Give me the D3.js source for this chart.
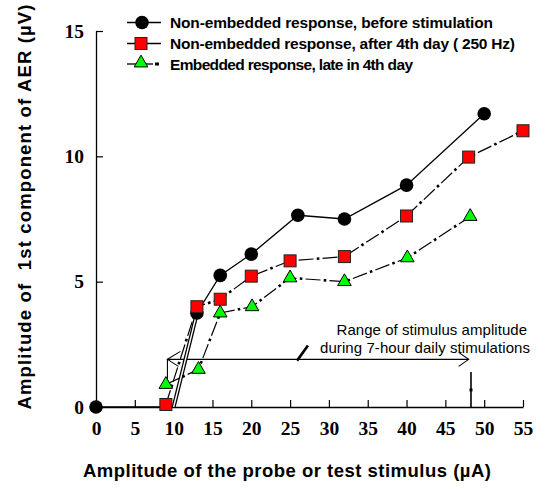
<!DOCTYPE html>
<html><head><meta charset="utf-8">
<script src="https://cdn.jsdelivr.net/npm/d3@7"></script>
<style>body{margin:0;background:#fff}</style>
</head><body>
<svg id="c" width="550" height="489"></svg>
<script>
const xTicks = [0,5,10,15,20,25,30,35,40,45,50,55];
const yTicks = [0,5,10,15];
const blackSeries = [[0,0],[10,0],[13,3.75],[16,5.25],[20,6.1],[26,7.65],[32,7.5],[40,8.85],[50,11.7]];
const redSeries = [[9,0.1],[13,4.0],[16,4.3],[20,5.22],[25,5.83],[32,6.0],[40,7.62],[48,9.97],[55,11.02]];
const greenSeries = [[9,0.9],[13.2,1.5],[16,3.75],[20.1,4.0],[25,5.15],[32,5.0],[40.1,5.95],[48.2,7.6]];
const legendLabels = ["Non-embedded response, before stimulation","Non-embedded response, after 4th day ( 250 Hz)","Embedded response, late in 4th day"];
const annotLines = ["Range of stimulus amplitude","during 7-hour daily stimulations"];
const xTitle = "Amplitude of the probe or test stimulus (\u00b5A)";
const yTitle = "Amplitude of  1st component of AER (\u00b5V)";

const svg = d3.select("#c");
const L=96, R=523, T=31, B=407;
const x = d3.scaleLinear().domain([0,55]).range([L,R]);
const y = d3.scaleLinear().domain([0,15]).range([B,T]);
const SANS = "'Liberation Sans',Arial,sans-serif";

// axes
const xAxis = d3.axisBottom(x).tickValues(xTicks).tickSize(-7).tickPadding(14).tickSizeOuter(0);
const gx = svg.append("g").attr("transform",`translate(0,${B})`).call(xAxis);
gx.select(".domain").attr("stroke","#000").attr("stroke-width",1.3);
gx.selectAll(".tick line").attr("stroke","#000").attr("stroke-width",1.2);
gx.selectAll(".tick text").attr("font-family","'Liberation Serif',serif").attr("font-weight","bold").attr("font-size",19.5).attr("fill","#000");

const yAxis = d3.axisLeft(y).tickValues(yTicks).tickSize(-7).tickPadding(12).tickSizeOuter(0);
const gy = svg.append("g").attr("transform",`translate(${L},0)`).call(yAxis);
gy.select(".domain").attr("stroke","#000").attr("stroke-width",1.3);
gy.selectAll(".tick text").attr("font-family","'Liberation Serif',serif").attr("font-weight","bold").attr("font-size",19.5).attr("fill","#000");
gy.selectAll(".tick line").attr("stroke","#000").attr("stroke-width",1.2);

// titles
svg.append("text").attr("x",287).attr("y",477).attr("text-anchor","middle")
  .attr("font-family",SANS).attr("font-weight","bold").attr("font-size",18.5)
  .attr("textLength",408).attr("lengthAdjust","spacing").text(xTitle);
svg.append("text").attr("transform",`translate(31,207) rotate(-90)`).attr("text-anchor","middle")
  .style("white-space","pre")
  .attr("font-family",SANS).attr("font-weight","bold").attr("font-size",18.5)
  .attr("textLength",405).attr("lengthAdjust","spacing").text(yTitle);

// annotation
const ann = svg.append("g").attr("stroke","#000").attr("fill","none");
const ay = 1.9, ax0 = 9.2, ax1 = 48;
ann.append("line").attr("x1",x(ax0)).attr("x2",x(ax1)).attr("y1",y(ay)).attr("y2",y(ay)).attr("stroke-width",1.2);
ann.append("path").attr("d",`M${x(ax1)-10},${y(ay)-7}L${x(ax1)},${y(ay)}L${x(ax1)-10},${y(ay)+7}`).attr("stroke-width",1.1);
ann.append("path").attr("d",`M${x(ax0)+13},${y(ay)-8}L${x(ax0)},${y(ay)}L${x(ax0)+11},${y(ay)+7}`).attr("stroke-width",1.1);
ann.append("line").attr("x1",x(ax0)).attr("x2",x(ax0)).attr("y1",y(ay)).attr("y2",y(1.0)).attr("stroke-width",1.1);
ann.append("line").attr("x1",x(48.3)).attr("x2",x(48.3)).attr("y1",y(1.4)).attr("y2",y(0)).attr("stroke-width",1.6);
ann.append("rect").attr("x",x(48.3)-1.5).attr("y",y(0.68)-1.5).attr("width",3).attr("height",3).attr("fill","#000").attr("stroke","none");
ann.append("line").attr("x1",x(25.9)).attr("y1",y(1.85)).attr("x2",x(27.3)).attr("y2",y(2.45)).attr("stroke-width",2.6);
svg.append("g").selectAll("text").data(annotLines).join("text")
  .attr("x",(d,i)=>i===0?336.5:320).attr("y",(d,i)=>335+i*17.5)
  .attr("font-family",SANS).attr("font-size",15)
  .attr("textLength",(d,i)=>i===0?190.5:210).attr("lengthAdjust","spacing").text(d=>d);

const line = d3.line().x(d=>x(d[0])).y(d=>y(d[1]));

function dashDot(g, data){
  g.append("path").attr("d",line(data)).attr("fill","none").attr("stroke","#000").attr("stroke-width",1.2).attr("stroke-dasharray","15 9");
  g.append("path").attr("d",line(data)).attr("fill","none").attr("stroke","#000").attr("stroke-width",2.6).attr("stroke-dasharray","2.6 21.4").attr("stroke-dashoffset",-18.2);
}

// black
const gb = svg.append("g");
gb.append("path").attr("d",line(blackSeries)).attr("fill","none").attr("stroke","#000").attr("stroke-width",1.3);
gb.append("path").attr("d",line(blackSeries.slice(1,3))).attr("fill","none").attr("stroke","#000").attr("stroke-width",4);
gb.append("path").attr("d",line(blackSeries.slice(1,3))).attr("fill","none").attr("stroke","#fff").attr("stroke-width",1.4);
gb.selectAll("circle").data(blackSeries.filter((d,i)=>i!==1)).join("circle")
  .attr("cx",d=>x(d[0])).attr("cy",d=>y(d[1])).attr("r",6.8).attr("fill","#000");

// red
const gr = svg.append("g");
dashDot(gr, redSeries);
gr.selectAll("rect").data(redSeries).join("rect")
  .attr("x",d=>x(d[0])-6).attr("y",d=>y(d[1])-6).attr("width",12).attr("height",12)
  .attr("fill","#ff0000").attr("stroke","#222").attr("stroke-width",1);

// green
const gg = svg.append("g");
dashDot(gg, greenSeries);
const tri = d3.symbol().type(d3.symbolTriangle).size(80);
gg.selectAll("path.m").data(greenSeries).join("path").attr("class","m")
  .attr("transform",d=>`translate(${x(d[0])},${y(d[1])})`).attr("d",tri)
  .attr("fill","#00ff00").attr("stroke","#000").attr("stroke-width",1);

// legend
const lg = svg.append("g");
const rowY = [22.5,43.5,64];
const lx0=127, lx1=161, lm=141;
lg.selectAll("line").data(rowY).join("line").attr("x1",lx0).attr("x2",(d,i)=>i===2?lx1-8:lx1).attr("y1",d=>d).attr("y2",d=>d).attr("stroke","#000").attr("stroke-width",1.3);
lg.append("rect").attr("x",lx1-6).attr("y",rowY[2]-1.5).attr("width",4).attr("height",3).attr("fill","#000");
lg.append("circle").attr("cx",lm+1).attr("cy",rowY[0]).attr("r",6.8).attr("fill","#000");
lg.append("rect").attr("x",lm-6).attr("y",rowY[1]-6).attr("width",12).attr("height",12).attr("fill","#ff0000").attr("stroke","#222");
lg.append("path").attr("transform",`translate(${lm},${rowY[2]-1})`).attr("d",tri).attr("fill","#00ff00").attr("stroke","#000");
const legW = [323, 345, 243];
lg.selectAll("text").data(legendLabels).join("text").attr("x",170).attr("y",(d,i)=>rowY[i]+5.5)
  .attr("font-family",SANS).attr("font-weight","bold").attr("font-size",15.5)
  .attr("textLength",(d,i)=>legW[i]).attr("lengthAdjust","spacing").text(d=>d);
</script>
</body></html>
